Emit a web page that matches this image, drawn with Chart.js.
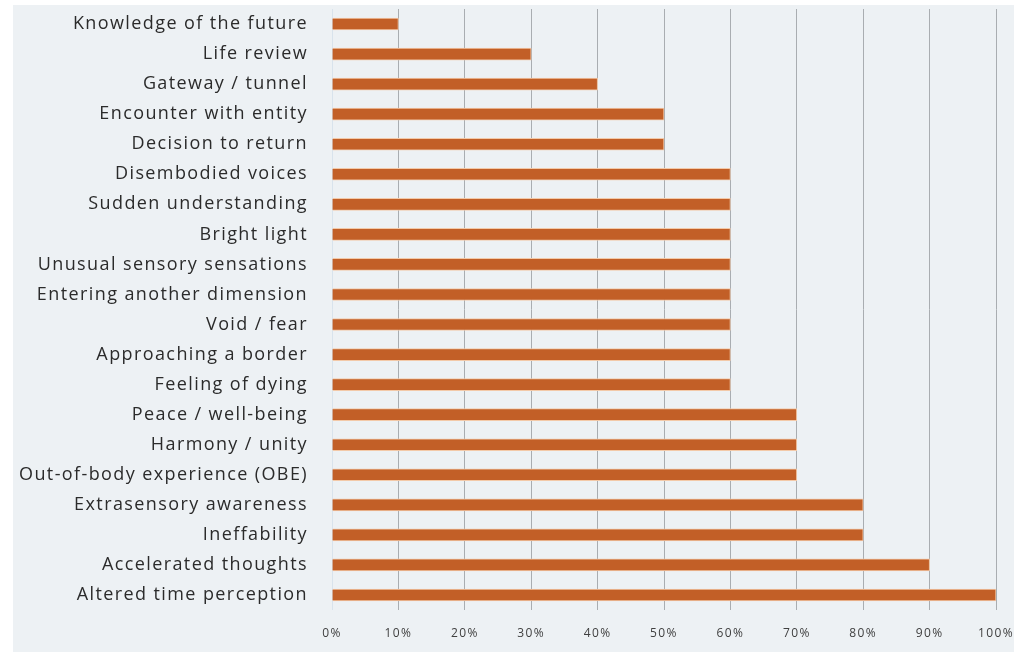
<!DOCTYPE html>
<html>
<head>
<meta charset="utf-8">
<script src="https://cdn.jsdelivr.net/npm/chart.js@4"></script>
<style>
  html, body { margin: 0; padding: 0; background: #ffffff; overflow: hidden; }
  #wrap { position: absolute; left: 13px; top: 5px; width: 1001px; height: 647px; }
</style>
</head>
<body>
<div id="wrap"><canvas id="c" width="1001" height="647"></canvas></div>
<script>
const categories = [
  "Knowledge of the future",
  "Life review",
  "Gateway / tunnel",
  "Encounter with entity",
  "Decision to return",
  "Disembodied voices",
  "Sudden understanding",
  "Bright light",
  "Unusual sensory sensations",
  "Entering another dimension",
  "Void / fear",
  "Approaching a border",
  "Feeling of dying",
  "Peace / well-being",
  "Harmony / unity",
  "Out-of-body experience (OBE)",
  "Extrasensory awareness",
  "Ineffability",
  "Accelerated thoughts",
  "Altered time perception"
];
const values = [10, 30, 40, 50, 50, 60, 60, 60, 60, 60, 60, 60, 60, 70, 70, 70, 80, 80, 90, 100];
const tickValues = [0, 10, 20, 30, 40, 50, 60, 70, 80, 90, 100];

const bgPlugin = {
  id: 'bg',
  beforeInit(chart) { chart.ctx.letterSpacing = '1.4px'; },
  beforeLayout(chart) { chart.ctx.letterSpacing = '1.4px'; },
  beforeDraw(chart) {
    const ctx = chart.ctx;
    ctx.save();
    ctx.fillStyle = '#EDF1F4';
    ctx.fillRect(0, 0, chart.width, chart.height);
    ctx.restore();
  }
};

new Chart(document.getElementById('c'), {
  type: 'bar',
  data: {
    labels: categories,
    datasets: [{
      data: values,
      backgroundColor: '#C25F27',
      borderColor: '#F3C9A8',
      borderWidth: 1,
      barThickness: 12
    }]
  },
  options: {
    indexAxis: 'y',
    responsive: false,
    animation: false,
    layout: { padding: { top: 4, right: 18, left: 0, bottom: 0 } },
    plugins: { legend: { display: false }, tooltip: { enabled: false } },
    scales: {
      x: {
        min: 0, max: 100,
        afterBuildTicks(scale) { scale.ticks = tickValues.map(v => ({ value: v })); },
        afterFit(scale) { scale.height = 42; scale.paddingLeft = 0; scale.paddingRight = 0; },
        grid: {
          drawTicks: false,
          color: (c) => c.index === 0 ? '#D9E3EC' : '#A9ADB1',
          lineWidth: 1
        },
        border: { display: false },
        ticks: {
          padding: 16,
          color: '#404040',
          font: { family: 'Open Sans', size: 12 },
          callback: (v) => v + '%'
        }
      },
      y: {
        afterFit(scale) { scale.width = 319; scale.paddingTop = 0; scale.paddingBottom = 0; },
        grid: { display: false, drawTicks: false },
        border: { display: false },
        ticks: {
          padding: 24,
          color: '#2B2B2B',
          font: { family: 'Open Sans', size: 18 }
        }
      }
    }
  },
  plugins: [bgPlugin]
});
</script>
</body>
</html>
